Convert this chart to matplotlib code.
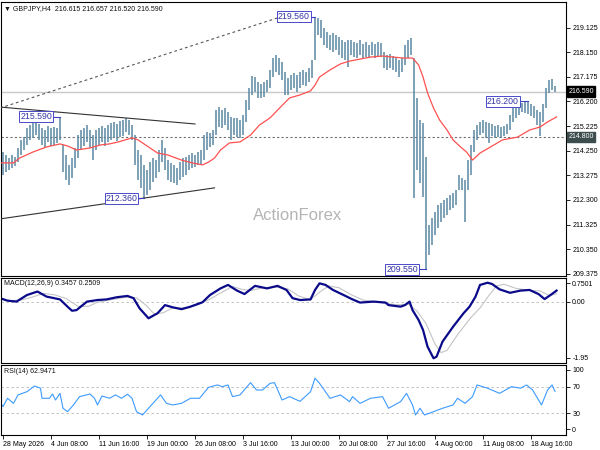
import matplotlib
matplotlib.use("Agg")
import matplotlib.pyplot as plt
import matplotlib.transforms as mtransforms

plt.rcParams['font.family'] = ['Liberation Sans', 'DejaVu Sans']

# Barras H4 GBPJPY (una barra cada 2 velas H4)
highs = [214.20, 214.08, 213.96, 214.08, 214.00, 214.36, 214.68, 214.79, 215.15, 215.27,
         215.39, 215.43, 215.31, 215.15, 215.07, 215.23, 215.15, 215.19, 215.15, 215.59,
         214.48, 214.08, 213.69, 213.96, 214.36, 214.87, 215.07, 215.15, 215.27, 215.07,
         214.87, 215.07, 215.15, 215.23, 215.15, 215.27, 215.35, 215.39, 215.31, 215.43,
         215.47, 215.55, 215.47, 215.27, 214.87, 214.28, 214.08, 213.69, 213.49, 213.80,
         213.96, 213.88, 214.28, 214.68, 214.36, 213.88, 213.77, 213.69, 213.57, 213.80,
         213.96, 214.00, 214.08, 214.16, 214.08, 214.20, 214.28, 214.87, 214.99, 214.95,
         215.07, 215.86, 215.98, 215.86, 215.94, 215.78, 215.59, 215.55, 215.55, 215.47,
         215.67, 216.26, 216.74, 217.21, 217.17, 216.97, 216.89, 216.97, 217.05, 217.45,
         217.92, 218.04, 217.92, 217.76, 217.37, 217.13, 217.25, 217.33, 217.25, 217.37,
         217.45, 217.37, 217.53, 217.84, 219.56, 219.50, 219.43, 219.11, 218.95, 218.83,
         218.91, 218.83, 218.75, 218.64, 218.56, 218.64, 218.64, 218.56, 218.52, 218.64,
         218.48, 218.56, 218.44, 218.56, 218.48, 218.56, 218.52, 218.16, 218.04, 218.08,
         218.00, 217.92, 217.84, 217.92, 218.44, 218.64, 218.72, 217.92, 216.34, 215.47,
         215.35, 214.00, 211.31, 211.59, 211.82, 212.10, 212.18, 212.30, 212.38, 212.50,
         212.58, 212.70, 213.29, 213.17, 213.09, 213.88, 214.48, 215.07, 215.27, 215.39,
         215.47, 215.39, 215.35, 215.31, 215.23, 215.27, 215.19, 215.23, 215.31, 215.67,
         215.94, 216.10, 216.15, 216.16, 216.18, 216.20, 216.10, 216.02, 215.86, 215.78,
         216.10, 216.74, 217.05, 217.09, 216.81]
lows = [213.29, 213.41, 213.49, 213.57, 213.65, 213.80, 214.08, 214.28, 214.48, 214.68,
        214.76, 214.87, 214.68, 214.48, 214.36, 214.60, 214.44, 214.48, 214.56, 214.68,
        213.41, 213.09, 212.89, 213.17, 213.57, 213.96, 214.28, 214.44, 214.60, 214.36,
        213.88, 214.28, 214.48, 214.60, 214.44, 214.60, 214.68, 214.76, 214.64, 214.79,
        214.83, 214.99, 214.87, 214.68, 213.69, 213.09, 212.78, 212.36, 212.50, 212.70,
        213.01, 213.17, 213.41, 213.80, 213.49, 213.09, 213.01, 212.97, 212.89, 213.09,
        213.21, 213.29, 213.49, 213.57, 213.61, 213.69, 213.73, 213.88, 214.28, 214.40,
        214.48, 214.87, 215.19, 215.15, 215.27, 215.07, 214.68, 214.87, 214.79, 214.76,
        214.87, 215.39, 215.86, 216.46, 216.58, 216.34, 216.34, 216.38, 216.58, 216.74,
        217.17, 217.37, 217.25, 217.05, 216.46, 216.46, 216.66, 216.74, 216.58, 216.74,
        216.85, 216.81, 216.97, 217.13, 217.84, 218.83, 218.72, 218.44, 218.32, 218.24,
        218.16, 218.24, 218.04, 217.92, 217.84, 217.57, 218.04, 217.96, 217.92, 218.04,
        217.92, 217.96, 217.92, 218.04, 217.92, 218.00, 217.96, 217.53, 217.45, 217.53,
        217.45, 217.37, 217.17, 217.37, 217.65, 217.92, 218.04, 212.38, 213.49, 212.97,
        212.42, 209.55, 210.12, 210.52, 210.91, 211.19, 211.43, 211.59, 211.71, 211.90,
        211.98, 212.10, 212.70, 212.70, 211.43, 212.70, 213.29, 214.20, 214.68, 214.87,
        214.95, 214.76, 214.56, 214.83, 214.76, 214.79, 214.76, 214.83, 214.91, 215.07,
        215.39, 215.55, 215.67, 215.78, 215.75, 215.71, 215.63, 215.55, 215.27, 214.83,
        215.39, 215.94, 216.54, 216.66, 216.59]

# Media movil (indice de vela H4, precio)
ma_idx = [-2, 7, 11, 20, 29, 38, 43, 49, 58, 65, 71, 77, 86, 90, 97, 103, 110, 119, 126, 133,
          137, 141, 145, 151, 158, 165, 171, 178, 185, 191, 198, 205, 208, 211, 218, 225, 231,
          238, 245, 253, 260, 267, 273, 277, 280, 283, 287, 291, 296, 300, 305, 309, 313, 318,
          325, 333, 343, 351, 358, 363, 369]
ma_val = [213.77, 213.77, 213.96, 214.20, 214.40, 214.52, 214.44, 214.28, 214.36, 214.48,
          214.52, 214.60, 214.76, 214.68, 214.40, 214.16, 214.08, 213.88, 213.77, 213.69,
          213.80, 213.96, 214.28, 214.56, 214.60, 214.87, 215.27, 215.55, 215.98, 216.34,
          216.46, 216.62, 216.85, 217.17, 217.45, 217.69, 217.80, 217.88, 217.96, 218.00,
          217.96, 217.92, 217.92, 217.65, 217.17, 216.54, 215.94, 215.47, 215.07, 214.68,
          214.40, 214.20, 213.88, 214.16, 214.40, 214.68, 214.79, 215.07, 215.19, 215.39,
          215.59]

# MACD y senal
macd_idx = [-2, 3, 9, 16, 23, 29, 38, 43, 46, 49, 56, 63, 69, 76, 83, 87, 91, 97, 103, 108,
            113, 119, 125, 133, 138, 145, 150, 156, 161, 168, 176, 183, 189, 193, 198, 205,
            208, 211, 215, 220, 227, 233, 238, 247, 255, 257, 265, 268, 271, 273, 277, 280,
            283, 287, 289, 293, 300, 307, 311, 315, 318, 323, 326, 331, 338, 345, 351, 357,
            361, 365, 369]
macd_val = [0.11, 0.03, 0.00, 0.21, 0.32, 0.16, 0.07, -0.16, -0.29, -0.27, 0.00, 0.05, 0.07,
            0.14, 0.18, 0.11, -0.21, -0.53, -0.37, -0.11, -0.18, -0.24, -0.16, -0.02, 0.21,
            0.42, 0.53, 0.35, 0.24, 0.50, 0.42, 0.50, 0.37, 0.11, 0.05, 0.07, 0.37, 0.58, 0.53,
            0.37, 0.21, 0.07, -0.03, 0.00, -0.03, -0.11, -0.16, -0.11, 0.00, -0.27, -0.58,
            -0.90, -1.43, -1.80, -1.75, -1.27, -0.80, -0.37, -0.16, 0.16, 0.53, 0.60, 0.56,
            0.39, 0.28, 0.35, 0.37, 0.24, 0.08, 0.21, 0.35]
sig_idx = [-2, 5, 12, 20, 27, 34, 42, 50, 57, 63, 72, 82, 89, 95, 101, 107, 113, 122, 130, 138,
           146, 153, 160, 166, 173, 182, 190, 197, 205, 211, 217, 224, 232, 240, 250, 262, 270,
           276, 282, 288, 292, 296, 303, 312, 318, 324, 329, 334, 342, 352, 358, 364, 369]
sig_val = [0.08, 0.03, 0.05, 0.15, 0.26, 0.22, 0.10, -0.15, -0.15, -0.02, 0.06, 0.14, 0.12,
           -0.10, -0.40, -0.35, -0.20, -0.20, -0.10, 0.08, 0.30, 0.48, 0.38, 0.36, 0.44, 0.46,
           0.40, 0.18, 0.06, 0.30, 0.50, 0.44, 0.22, 0.05, -0.02, -0.10, -0.08, -0.30, -0.70,
           -1.35, -1.62, -1.55, -1.05, -0.50, -0.20, 0.20, 0.50, 0.55, 0.42, 0.35, 0.34, 0.20,
           0.25]

# RSI(14)
rsi_idx = [-2, 0, 3, 7, 10, 16, 21, 25, 26, 31, 33, 35, 38, 40, 43, 47, 51, 58, 61, 63, 66, 71,
           75, 79, 83, 86, 89, 93, 97, 100, 105, 109, 113, 119, 125, 131, 137, 143, 146, 150,
           153, 158, 165, 169, 173, 178, 181, 186, 191, 198, 205, 208, 211, 218, 225, 231, 233,
           238, 245, 253, 257, 265, 269, 273, 275, 278, 281, 287, 293, 300, 303, 308, 313, 316,
           323, 331, 339, 345, 349, 353, 359, 363, 366, 368]
rsi_val = [47.5, 40, 52.6, 45, 57.6, 62.5, 71, 67.7, 52.6, 52.6, 59, 50, 60, 37.6, 32.5, 42.6,
           55, 59, 52.6, 42.6, 56, 52.6, 57.6, 52.6, 58.6, 52.6, 32.5, 27.5, 37.6, 45, 57.6, 45,
           42.6, 45, 52.6, 52.6, 69, 72.6, 70, 72.6, 55, 57.6, 76, 65, 65, 75, 76, 50, 55, 48,
           62.5, 82.7, 75, 52.6, 57.6, 47.5, 55, 45, 52.6, 55, 37.6, 47.5, 60, 42.6, 27.5, 37.6,
           27.5, 32.5, 37.6, 42.6, 52.6, 45, 55, 72.6, 67.7, 60, 70, 67.7, 72.6, 65, 42.6, 65,
           72.6, 63]

# Ejes
price_ticks = [209.375, 210.350, 211.325, 212.300, 213.275, 214.250, 215.225, 216.200,
               217.175, 218.150, 219.125]
date_idx = [0, 32, 64, 96, 128, 160, 192, 224, 256, 288, 320, 352]
date_labels = ['28 May 2026', '4 Jun 08:00', '11 Jun 16:00', '19 Jun 00:00', '26 Jun 08:00',
               '3 Jul 16:00', '13 Jul 00:00', '20 Jul 08:00', '27 Jul 16:00', '4 Aug 00:00',
               '11 Aug 08:00', '18 Aug 16:00']

# Lineas de tendencia (indice, precio)
dash_line = ([-2, 183], [215.94, 219.51])
upper_line = ([-2, 128], [215.98, 215.31])
lower_line = ([-2, 141], [211.55, 212.78])

# Etiquetas de maximos/minimos: (centro, fin, precio)
swing_labels = [(22, 38, 215.59), (79, 94, 212.36), (194, 208, 219.56),
                (266, 282, 209.55), (333, 350, 216.20)]

BAR = '#5a88a2'
FS = 5

fig = plt.figure(figsize=(6, 4.5), dpi=100)
L, W = 1 / 600, 565 / 600
axP = fig.add_axes([L, 1 - 276 / 450, W, 274 / 450])
axM = fig.add_axes([L, 1 - 363 / 450, W, 85 / 450])
axR = fig.add_axes([L, 1 - 435 / 450, W, 70 / 450])

for ax in (axP, axM, axR):
    ax.set_xlim(-1.33, 375.3)
    ax.yaxis.tick_right()
    ax.tick_params(axis='y', direction='out', length=3, width=0.6, labelsize=FS, pad=1.5)
    for s in ax.spines.values():
        s.set_linewidth(0.8)
        s.set_color('black')

# Panel de precios
axP.set_ylim(209.29, 220.14)
axP.set_xticks([])
axP.set_yticks(price_ticks)
axP.set_yticklabels(['%.3f' % p for p in price_ticks])
axP.axhline(216.59, color='#c8c8c8', lw=1.0, zorder=1)
axP.axhline(214.80, color='#707070', lw=0.8, ls=(0, (2, 2)), zorder=1)
bar_idx = list(range(0, 2 * len(highs), 2))
axP.vlines(bar_idx, lows, highs, color=BAR, lw=1.1, zorder=2)
axP.plot(ma_idx, ma_val, color='#ff5050', lw=0.9, zorder=3)
axP.plot(*dash_line, color='#555555', lw=0.8, ls=(0, (2.5, 2.5)), zorder=3)
axP.plot(*upper_line, color='#333333', lw=0.8, zorder=3)
axP.plot(*lower_line, color='#333333', lw=0.8, zorder=3)

for xc, xe, p in swing_labels:
    axP.plot([xc + 10, xe], [p, p], color='#3f3fbf', lw=0.8, zorder=4)
    axP.text(xc, p, '%.3f' % p, ha='center', va='center', fontsize=6.3, color='#3434a8',
             zorder=5, bbox=dict(boxstyle='square,pad=0.12', fc='white', ec='#4a4ac8', lw=0.7))

trans = mtransforms.blended_transform_factory(axP.transAxes, axP.transData)
axP.text(1.004, 216.59, '216.590', transform=trans, ha='left', va='center', fontsize=FS,
         color='white', clip_on=False,
         bbox=dict(boxstyle='square,pad=0.25', fc='black', ec='black'))
axP.text(1.004, 214.80, '214.800', transform=trans, ha='left', va='center', fontsize=FS,
         color='white', clip_on=False,
         bbox=dict(boxstyle='square,pad=0.25', fc='#3d4d4d', ec='#3d4d4d'))

axP.text(0.006, 0.975, '\u25bc GBPJPY,H4  216.615 216.657 216.520 216.590',
         transform=axP.transAxes, ha='left', va='center', fontsize=FS, color='#111111')
axP.text(196.7, 211.67, 'ActionForex', ha='center', va='center', fontsize=12,
         color='#b4b4b4', zorder=1)

# Panel MACD
axM.set_ylim(-1.95, 0.7501)
axM.set_xticks([])
axM.axhline(0, color='#b8b8b8', lw=0.6, ls=(0, (3, 3)))
axM.plot(sig_idx, sig_val, color='#c4c4c4', lw=0.8)
axM.plot(macd_idx, macd_val, color='#0a0a8a', lw=1.6)
axM.set_yticks([0.59, 0.0, -1.79])
axM.set_yticklabels(['0.7501', '0.00', '-1.95'])
axM.text(0.006, 0.93, 'MACD(12,26,9) 0.3457 0.2509', transform=axM.transAxes,
         ha='left', va='center', fontsize=FS, color='#111111')

# Panel RSI
axR.set_ylim(-2.5, 102.5)
axR.axhline(70, color='#b8b8b8', lw=0.6, ls=(0, (3, 3)))
axR.axhline(30, color='#b8b8b8', lw=0.6, ls=(0, (3, 3)))
axR.plot(rsi_idx, rsi_val, color='#3d9bff', lw=0.8)
axR.set_yticks([95, 70, 30, 6])
axR.set_yticklabels(['100', '70', '30', '0'])
axR.text(0.006, 0.914, 'RSI(14) 62.9471', transform=axR.transAxes,
         ha='left', va='center', fontsize=FS, color='#111111')
axR.set_xticks(date_idx)
axR.set_xticklabels(date_labels, ha='left')
axR.tick_params(axis='x', direction='out', length=3, width=0.6, labelsize=FS, pad=1)

fig.savefig('out.png', dpi=100)
